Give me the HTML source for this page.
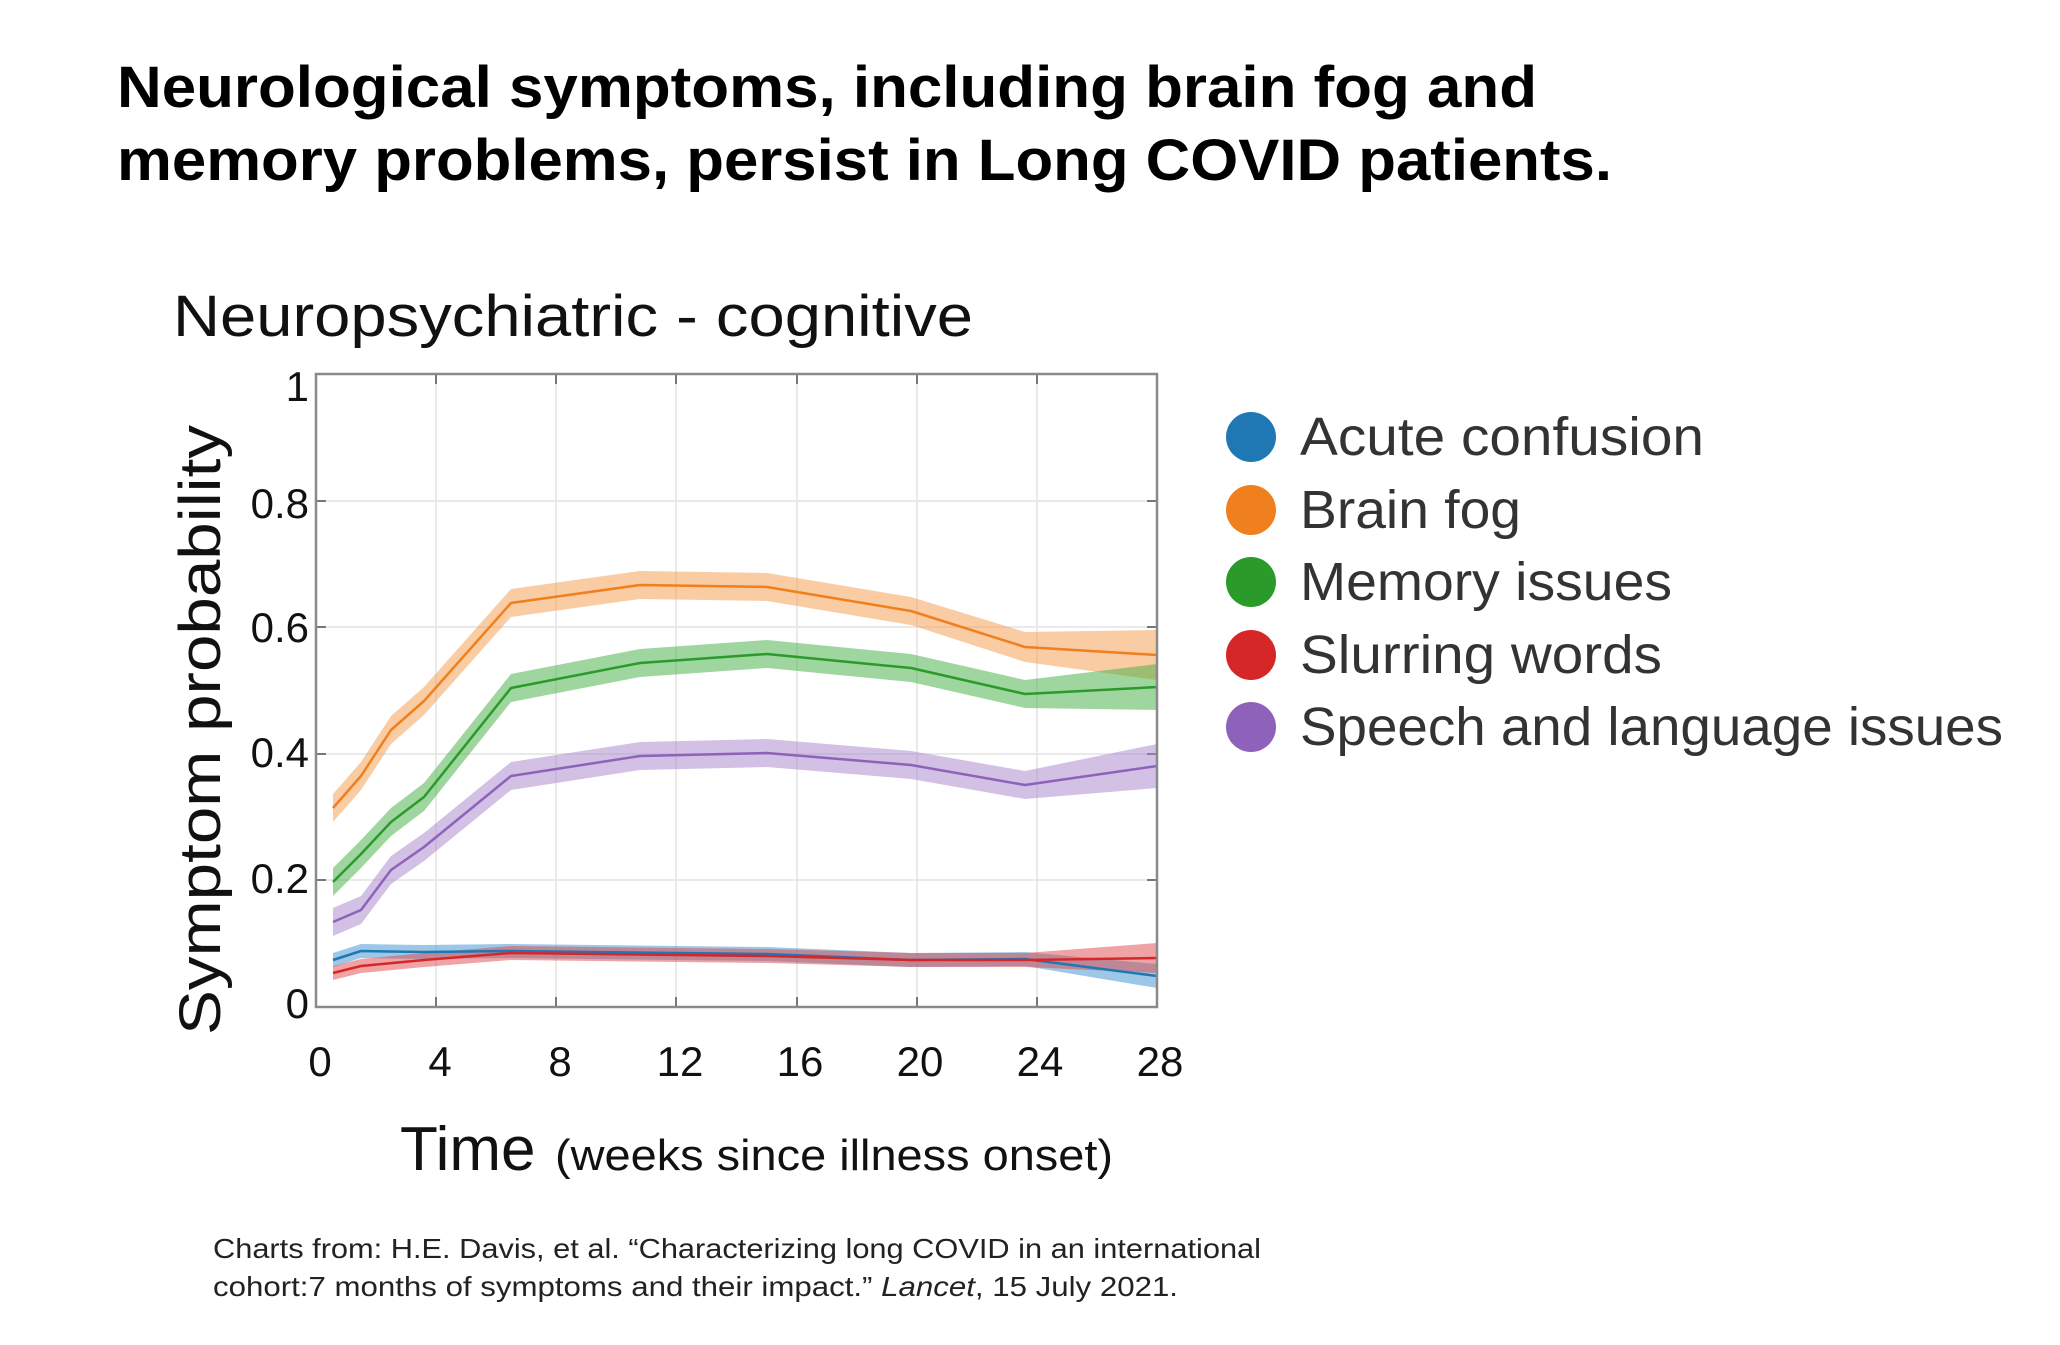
<!DOCTYPE html>
<html><head><meta charset="utf-8"><style>html,body{margin:0;padding:0;background:#fff}svg{display:block}</style></head>
<body>
<svg width="2060" height="1345" viewBox="0 0 2060 1345" xmlns="http://www.w3.org/2000/svg" font-family="Liberation Sans, sans-serif">
<rect width="2060" height="1345" fill="#fff"/>
<text x="117" y="107" font-size="58" font-weight="bold" textLength="1420" lengthAdjust="spacingAndGlyphs">Neurological symptoms, including brain fog and</text>
<text x="117" y="180" font-size="58" font-weight="bold" textLength="1495" lengthAdjust="spacingAndGlyphs">memory problems, persist in Long COVID patients.</text>
<text x="173" y="336" font-size="58" fill="#111" textLength="800" lengthAdjust="spacingAndGlyphs">Neuropsychiatric - cognitive</text>
<g stroke="#e4e4e4" stroke-width="1.5">
<line x1="436" y1="374" x2="436" y2="1007"/><line x1="556" y1="374" x2="556" y2="1007"/><line x1="676" y1="374" x2="676" y2="1007"/><line x1="797" y1="374" x2="797" y2="1007"/><line x1="917" y1="374" x2="917" y2="1007"/><line x1="1037" y1="374" x2="1037" y2="1007"/>
<line x1="316" y1="880" x2="1157" y2="880"/><line x1="316" y1="754" x2="1157" y2="754"/><line x1="316" y1="627" x2="1157" y2="627"/><line x1="316" y1="501" x2="1157" y2="501"/>
</g>
<g stroke="#777" stroke-width="2">
<line x1="436" y1="1007" x2="436" y2="997"/><line x1="556" y1="1007" x2="556" y2="997"/><line x1="676" y1="1007" x2="676" y2="997"/><line x1="797" y1="1007" x2="797" y2="997"/><line x1="917" y1="1007" x2="917" y2="997"/><line x1="1037" y1="1007" x2="1037" y2="997"/>
<line x1="436" y1="374" x2="436" y2="384"/><line x1="556" y1="374" x2="556" y2="384"/><line x1="676" y1="374" x2="676" y2="384"/><line x1="797" y1="374" x2="797" y2="384"/><line x1="917" y1="374" x2="917" y2="384"/><line x1="1037" y1="374" x2="1037" y2="384"/>
<line x1="316" y1="880" x2="326" y2="880"/><line x1="316" y1="754" x2="326" y2="754"/><line x1="316" y1="627" x2="326" y2="627"/><line x1="316" y1="501" x2="326" y2="501"/>
<line x1="1157" y1="880" x2="1147" y2="880"/><line x1="1157" y1="754" x2="1147" y2="754"/><line x1="1157" y1="627" x2="1147" y2="627"/><line x1="1157" y1="501" x2="1147" y2="501"/>
</g>
<g fill-opacity="0.5">
<polygon fill="#f59a4a" points="333,794 361,762 391,716 424,687 511,589 640,571 767,573 911,597 1025,632 1157,630 1157,680 1025,662 911,625 767,601 640,599 511,617 424,715 391,744 361,790 333,822"/>
<polygon fill="#3fae3f" points="333,868 361,840 391,808 424,783 511,674 640,649 767,640 911,654 1025,680 1157,664 1157,710 1025,708 911,682 767,668 640,677 511,702 424,811 391,836 361,868 333,896"/>
<polygon fill="#a782cc" points="333,908 361,896 391,856 424,833 511,762 640,742 767,739 911,751 1025,771 1157,744 1157,788 1025,799 911,779 767,767 640,770 511,790 424,861 391,884 361,924 333,936"/>
<polygon fill="#3b8fce" points="333,953 361,944 424,945 511,944 767,947 911,953 1025,952 1157,964 1157,988 1025,966 911,967 767,961 511,958 424,959 361,958 333,967"/>
<polygon fill="#e0484a" points="333,966 361,959 424,953 511,946 767,949 911,953 1025,953 1157,943 1157,973 1025,967 911,967 767,963 511,960 424,967 361,973 333,980"/>
</g>
<g fill="none" stroke-width="2.5" stroke-linejoin="round">
<polyline stroke="#f07f1e" points="333,808 361,776 391,730 424,701 511,603 640,585 767,587 911,611 1025,647 1157,655"/>
<polyline stroke="#2a9a2a" points="333,882 361,854 391,822 424,797 511,688 640,663 767,654 911,668 1025,694 1157,687"/>
<polyline stroke="#8e62bb" points="333,922 361,910 391,870 424,847 511,776 640,756 767,753 911,765 1025,785 1157,766"/>
<polyline stroke="#1f77b4" points="333,960 361,951 424,952 511,951 767,954 911,960 1025,959 1157,976"/>
<polyline stroke="#d62728" points="333,973 361,966 424,960 511,953 767,956 911,960 1025,960 1157,958"/>
</g>
<rect x="316" y="374" width="841" height="633" fill="none" stroke="#8a8a8a" stroke-width="2.5"/>
<g font-size="42" fill="#111" text-anchor="end">
<text x="309" y="401">1</text><text x="309" y="518">0.8</text><text x="309" y="642">0.6</text><text x="309" y="767">0.4</text><text x="309" y="893">0.2</text><text x="309" y="1018">0</text>
</g>
<g font-size="42" fill="#111" text-anchor="middle">
<text x="320" y="1076">0</text><text x="440" y="1076">4</text><text x="560" y="1076">8</text><text x="680" y="1076">12</text><text x="800" y="1076">16</text><text x="920" y="1076">20</text><text x="1040" y="1076">24</text><text x="1160" y="1076">28</text>
</g>
<text transform="translate(220,730) rotate(-90)" font-size="58" fill="#111" text-anchor="middle" textLength="610" lengthAdjust="spacingAndGlyphs">Symptom probability</text>
<text x="400" y="1170" font-size="62" fill="#111">Time</text>
<text x="555" y="1170" font-size="44" fill="#111" textLength="558" lengthAdjust="spacingAndGlyphs">(weeks since illness onset)</text>
<circle cx="1251" cy="437" r="25" fill="#1f77b4"/>
<circle cx="1251" cy="510" r="25" fill="#f07f1e"/>
<circle cx="1251" cy="582" r="25" fill="#2a9a2a"/>
<circle cx="1251" cy="655" r="25" fill="#d62728"/>
<circle cx="1251" cy="727" r="25" fill="#8e62bb"/>
<g font-size="54" fill="#333">
<text x="1300" y="455" textLength="404" lengthAdjust="spacingAndGlyphs">Acute confusion</text>
<text x="1300" y="528" textLength="221" lengthAdjust="spacingAndGlyphs">Brain fog</text>
<text x="1300" y="600" textLength="372" lengthAdjust="spacingAndGlyphs">Memory issues</text>
<text x="1300" y="673" textLength="362" lengthAdjust="spacingAndGlyphs">Slurring words</text>
<text x="1300" y="745" textLength="703" lengthAdjust="spacingAndGlyphs">Speech and language issues</text>
</g>
<g font-size="28" fill="#222">
<text x="213" y="1258" textLength="1048" lengthAdjust="spacingAndGlyphs">Charts from: H.E. Davis, et al. “Characterizing long COVID in an international</text>
<text x="213" y="1296" textLength="965" lengthAdjust="spacingAndGlyphs">cohort:7 months of symptoms and their impact.” <tspan font-style="italic">Lancet</tspan>, 15 July 2021.</text>
</g>
</svg>
</body></html>
